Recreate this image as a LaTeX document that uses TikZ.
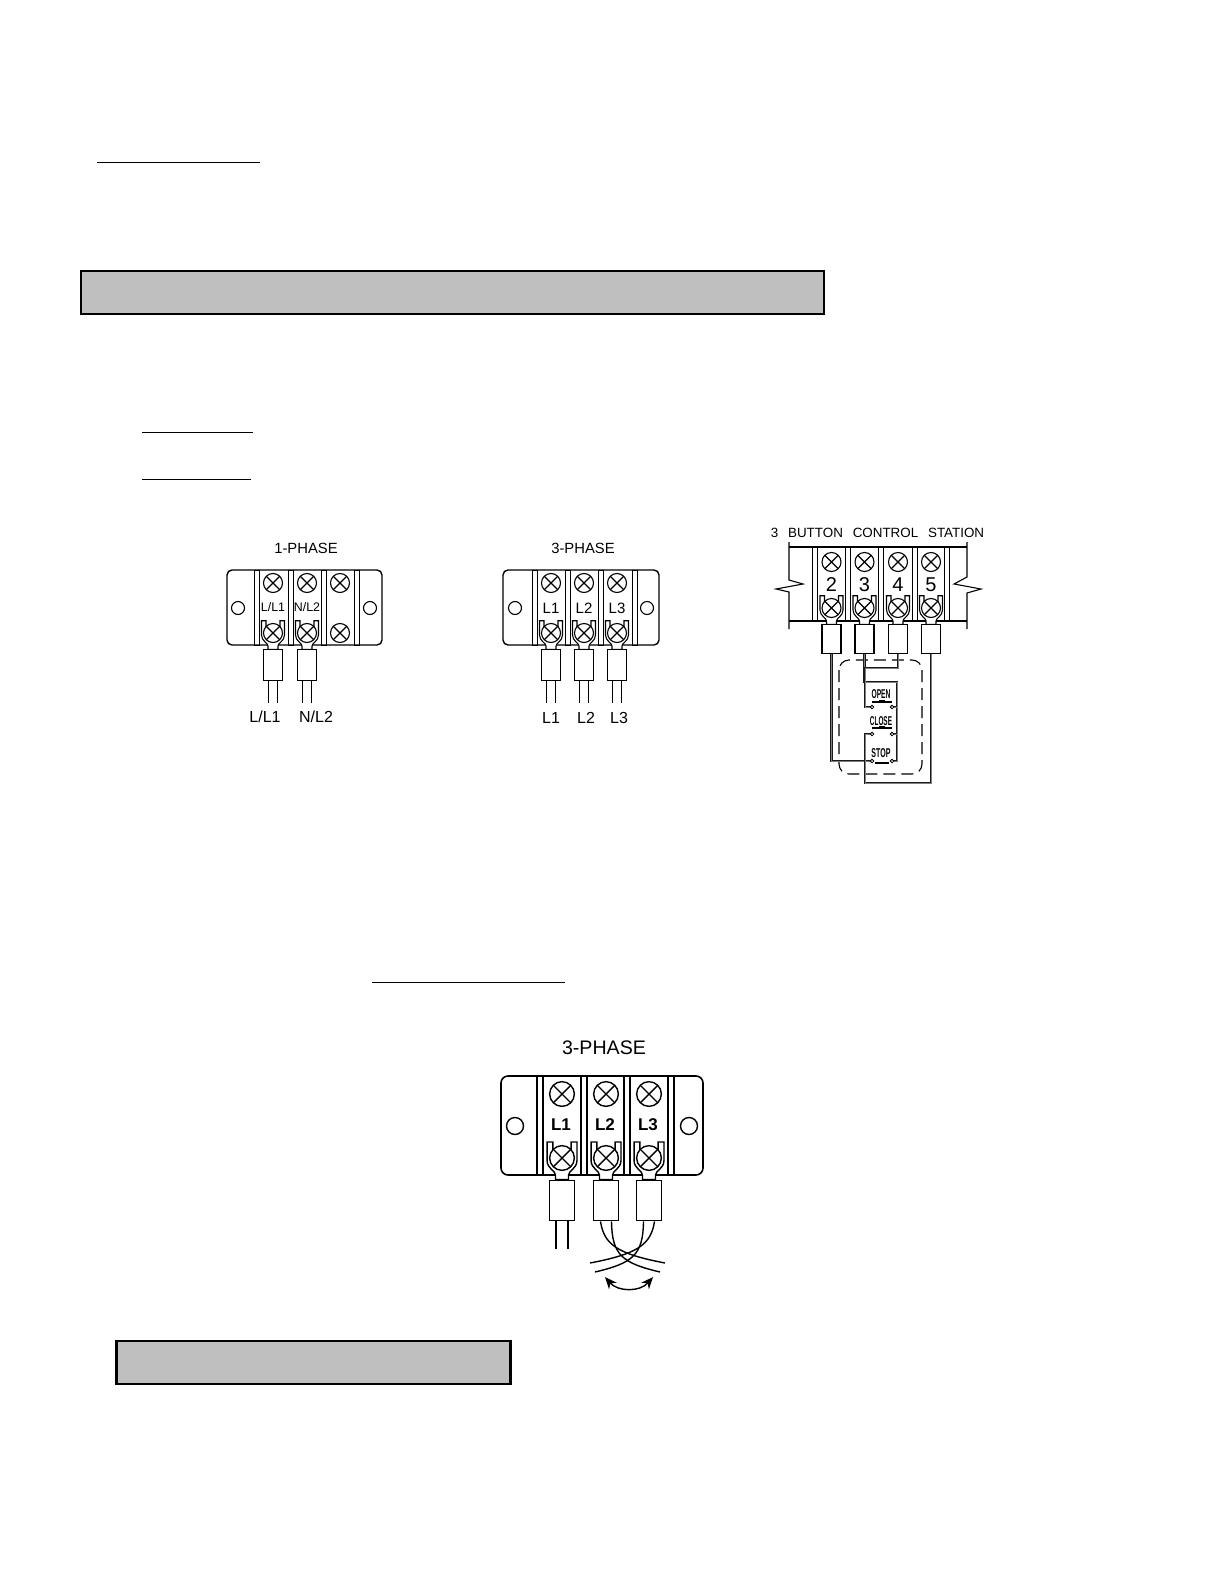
\documentclass[tikz,border=0pt]{standalone}
\usepackage{fontspec}
\setmainfont{Liberation Sans}
\usetikzlibrary{arrows.meta}
\tikzset{
	screw/.pic={\draw[fill=white] (0,0) circle (9.5); \draw (-6.7,-6.7)--(6.7,6.7) (-6.7,6.7)--(6.7,-6.7);},
	lug/.pic={\draw[fill=white] (-7,-12.3)--(-11.5,-12.3)--(-11.5,2) .. controls (-11.5,8) and (-5,10) .. (-5,13)--(-5,16.5)--(5,16.5)--(5,13) .. controls (5,10) and (11.5,8) .. (11.5,2)--(11.5,-12.3)--(7,-12.3)--(7,-6)--(-7,-6)--cycle;},
	barrel/.style={draw, fill=white, inner sep=0pt, anchor=north, minimum width=9.5pt, minimum height=15.5pt},
	bigbarrel/.style={barrel, minimum width=12.5pt, minimum height=20pt},
	stationbarrel/.style={barrel, minimum height=14.5pt},
	greybar/.style={fill=black!25, draw=black},
	tiny label/.style={inner sep=0pt, font=\fontsize{6.2}{7}\selectfont},
	wire label/.style={inner sep=0pt, font=\fontsize{8}{9}\selectfont},
	title label/.style={inner sep=0pt, font=\fontsize{7.4}{9}\selectfont},
	button label/.style={inner sep=0pt, font=\fontsize{6.4}{7}\selectfont\bfseries},
	ctlwire/.style={draw=black!90, line width=.45pt, double=black!50, double distance=.5pt},
}
\begin{document}
\begin{tikzpicture}[x=.5pt, y=-.5pt, line width=.55pt]
	\useasboundingbox (0,0) rectangle (1224,1584);

	%bars and underlines
	\draw[greybar, line width=1pt] (80.5,271) rectangle (824,314);
	\draw[greybar, line width=1.1pt] (116.5,1341) rectangle (510.5,1384);
	\draw[line width=.45pt] (97,162)--(260,162);
	\draw[line width=.45pt] (142,432)--(253,432);
	\draw[line width=.45pt] (142,479)--(251,479);
	\draw[line width=.45pt] (372,982)--(565,982);

	%1-phase block
	\node[title label] (titleA) at (306,548) {1-PHASE};
	\draw[line width=.7pt, rounded corners=2.5pt] (227,570) rectangle (382,645);
	\foreach \x in {254,288,321,354}
		\draw[line width=.45pt] (\x,570) rectangle (\x+5,645);
	\foreach \x in {238,370}
		\draw (\x,608) circle (6.5);
	\foreach \x in {273,307,340}
		\pic at (\x,583) {screw};
	\pic at (340,633) {screw};
	\node[tiny label] (innerA) at (273,607) {L/L1};
	\node[tiny label] (innerB) at (307,607) {N/L2};
	\foreach \i/\x in {1/273,2/307} {
		\pic at (\x,633) {lug};
		\pic at (\x,633) {screw};
		\node[barrel] (phA\i) at (\x,649) {};
		\draw ([xshift=-2.2pt]phA\i.south)--++(0,22);
		\draw ([xshift=2.2pt]phA\i.south)--++(0,22);
	}
	\node[wire label] (wireA) at (265,717) {L/L1};
	\node[wire label] (wireB) at (316,717) {N/L2};

	%3-phase block
	\node[title label] (titleB) at (583,548) {3-PHASE};
	\draw[line width=.7pt, rounded corners=2.5pt] (503,570) rectangle (659,645);
	\foreach \x in {532,565,598,632}
		\draw[line width=.45pt] (\x,570) rectangle (\x+5,645);
	\foreach \x in {515,647}
		\draw (\x,608) circle (6.5);
	\foreach \i/\x/\w in {1/551/551,2/584/586,3/617/619} {
		\pic at (\x,583) {screw};
		\node[inner sep=0pt, font=\fontsize{7.5}{8}\selectfont] (innerL\i) at (\x,608) {L\i};
		\pic at (\x,633) {lug};
		\pic at (\x,633) {screw};
		\node[barrel] (phB\i) at (\x,649) {};
		\draw ([xshift=-2.2pt]phB\i.south)--++(0,22);
		\draw ([xshift=2.2pt]phB\i.south)--++(0,22);
		\node[wire label] (wireL\i) at (\w,718) {L\i};
	}

	%3 button control station
	\node[inner sep=0pt, font=\fontsize{6.7}{8}\selectfont] (titleC) at (877.5,533) {\spaceskip=4.9pt\relax 3 BUTTON CONTROL STATION};
	\draw (789,547)--(967,547) (789,621)--(967,621);
	\draw (789,542)--(789,580)--(803,584)--(776,589)--(789,592)--(789,629);
	\draw (967,542)--(967,577)--(954,584)--(981,589)--(967,593)--(967,629);
	\foreach \x in {812,845.5,878,912,944.5}
		\draw[line width=.45pt] (\x,547) rectangle (\x+5,621);
	\foreach \i/\x in {2/831.5,3/864.5,4/898,5/931} {
		\pic at (\x,562) {screw};
		\node[inner sep=0pt, font=\fontsize{10}{11}\selectfont] (num\i) at (\x,585) {\i};
		\pic at (\x,608) {lug};
		\pic at (\x,608) {screw};
		\node[stationbarrel] (st\i) at (\x,624) {};
	}

	%dashed box
	\draw[dash pattern=on 6pt off 3pt, rounded corners=5pt] (839,660) rectangle (922,774);

	%wires
	\coordinate (openL) at (872,707); \coordinate (openR) at (892,707);
	\coordinate (closeL) at (872,734); \coordinate (closeR) at (892,734);
	\coordinate (stopL) at (872,761); \coordinate (stopR) at (892,761);
	\draw[ctlwire] (st2.south)|-(stopL);
	\draw[ctlwire] (st3.south)|-(897,682)--(897,761)--(stopR);
	\draw[ctlwire] (st4.south)|-(865,668)--(865,707)--(openL);
	\draw[ctlwire] (st5.south)--(931,783)--(865,783)--(865,734)--(closeL);
	\draw[ctlwire] (897,707)--(openR);
	\draw[ctlwire] (897,734)--(closeR);

	%buttons
	\node[button label] (open) at (881,694) {\scalebox{.52}[1]{OPEN}};
	\node[button label] (close) at (881,721) {\scalebox{.5}[1]{CLOSE}};
	\node[button label] (stop) at (881,753) {\scalebox{.55}[1]{STOP}};
	\foreach \y in {702,728}
		\draw[line width=.7pt] (872,\y)--(892,\y) (879,\y-1.5)--(885,\y-1.5);
	\draw[line width=.7pt] (875,763)--(889,763);
	\draw[line width=1.2pt] (879,763)--(885,763);
	\foreach \c in {openL,openR,closeL,closeR,stopL,stopR}
		\draw[fill=white, line width=.4pt] (\c) circle (1.8);

	%big 3-phase block
	\node[inner sep=0pt, font=\fontsize{9.8}{11}\selectfont] (titleD) at (604,1048) {3-PHASE};
	\draw[line width=.8pt, rounded corners=3.5pt] (501,1076) rectangle (703,1175);
	\foreach \x in {537,581,624,668}
		\draw[line width=.55pt] (\x,1076) rectangle (\x+6,1175);
	\foreach \x in {515,689}
		\draw[line width=.7pt] (\x,1126) circle (8.5);
	\foreach \i/\x in {1/562,2/606,3/649} {
		\pic[scale=1.3, line width=.7pt] at (\x,1094) {screw};
		\node[inner sep=0pt, font=\fontsize{8.5}{9}\selectfont\bfseries] (innerM\i) at (\x-1,1125) {L\i};
		\pic[scale=1.3, line width=.7pt] at (\x,1158) {lug};
		\pic[scale=1.3, line width=.7pt] at (\x,1158) {screw};
		\node[bigbarrel, line width=.7pt] (phC\i) at (\x,1180) {};
	}
	\draw[line width=.7pt] ([xshift=-3pt]phC1.south)--++(0,28);
	\draw[line width=.7pt] ([xshift=3pt]phC1.south)--++(0,28);

	%twisted wires
	\draw[line width=.7pt] ([xshift=-2.75pt]phC2.south) .. controls (604,1245) and (618,1254) .. (665,1263);
	\draw[line width=.7pt] ([xshift=2.75pt]phC2.south) .. controls (612,1255) and (622,1263) .. (660,1272);
	\draw[line width=.7pt] ([xshift=2.75pt]phC3.south) .. controls (651,1245) and (637,1254) .. (590,1263);
	\draw[line width=.7pt] ([xshift=-2.75pt]phC3.south) .. controls (643,1255) and (633,1263) .. (595,1272);
	\coordinate (swingL) at (605,1277);
	\coordinate (swingR) at (653,1277);
	\draw[line width=.7pt, {Stealth[length=6pt,width=5pt]}-{Stealth[length=6pt,width=5pt]}] (swingL) .. controls (618,1292) and (640,1292) .. (swingR);
\end{tikzpicture}
\end{document}
